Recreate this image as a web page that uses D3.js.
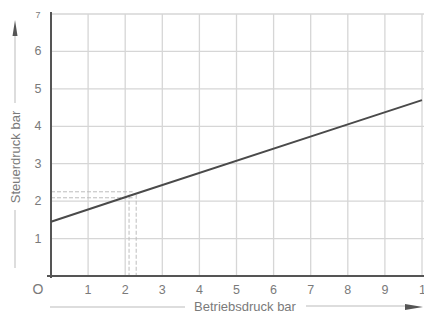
<!DOCTYPE html>
<html>
<head>
<meta charset="utf-8">
<script src="https://cdn.jsdelivr.net/npm/d3@7"></script>
<style>
  body { margin: 0; background: #fff; }
  text { font-family: "Liberation Sans", Arial, sans-serif; fill: #7a7a7a; }
</style>
</head>
<body>
<svg id="chart" width="424" height="317"></svg>
<script>
// Values
const xTicks = [0, 1, 2, 3, 4, 5, 6, 7, 8, 9, 10];
const yTicks = [0, 1, 2, 3, 4, 5, 6, 7];
const xTickLabels = ['O', '1', '2', '3', '4', '5', '6', '7', '8', '9', '10'];
const yTickLabels = ['', '1', '2', '3', '4', '5', '6', '7'];
// Betriebsdruck (bar) -> Steuerdruck (bar)
const linePoints = [[0, 1.45], [2.2, 2.17], [8, 4.05], [10, 4.7]];
// operating point marked with dashed guides
const markX = 2.2, markY = 2.17;

const svg = d3.select('#chart');

const x = d3.scaleLinear().domain([0, 10]).range([51, 422]);
const y = d3.scaleLinear().domain([0, 7]).range([276, 14]);

// grid
svg.append('g').selectAll('line').data(xTicks.slice(1))
  .enter().append('line')
  .attr('x1', d => x(d)).attr('x2', d => x(d))
  .attr('y1', y(7)).attr('y2', y(0))
  .attr('stroke', '#d6d6d6').attr('stroke-width', 1.3);
svg.append('g').selectAll('line').data(yTicks.slice(1))
  .enter().append('line')
  .attr('x1', x(0)).attr('x2', 424)
  .attr('y1', d => y(d)).attr('y2', d => y(d))
  .attr('stroke', '#d6d6d6').attr('stroke-width', 1.3);

// dashed guides for the marked point (drawn as thin double dashes)
let guide = svg.append('g').attr('stroke', '#bdbdbd').attr('stroke-width', 1)
  .attr('stroke-dasharray', '4,2').attr('fill', 'none');
[-0.08, 0.08].forEach(o => {
  guide.append('line')
    .attr('x1', x(0)).attr('x2', x(markX))
    .attr('y1', y(markY + o)).attr('y2', y(markY + o));
  guide.append('line')
    .attr('x1', x(markX + o * 1.2) ).attr('x2', x(markX + o * 1.2))
    .attr('y1', y(markY)).attr('y2', y(0));
});

// axes
svg.append('line')
  .attr('x1', x(0)).attr('x2', x(0))
  .attr('y1', y(7) - 2).attr('y2', y(0) + 2)
  .attr('stroke', '#555').attr('stroke-width', 2);
svg.append('line')
  .attr('x1', x(0) - 4).attr('x2', 424)
  .attr('y1', y(0)).attr('y2', y(0))
  .attr('stroke', '#555').attr('stroke-width', 2);

// characteristic line
svg.append('path')
  .datum(linePoints)
  .attr('fill', 'none')
  .attr('stroke', '#4a4a4a')
  .attr('stroke-width', 2)
  .attr('d', d3.line().x(d => x(d[0])).y(d => y(d[1])));

// tick labels
svg.append('g').selectAll('text').data(xTicks)
  .enter().append('text')
  .attr('x', (d, i) => i === 0 ? 38 : x(d))
  .attr('y', 294)
  .attr('text-anchor', (d, i) => i === 10 ? 'start' : 'middle')
  .attr('dx', (d, i) => i === 10 ? -3 : 0)
  .attr('font-size', (d, i) => i === 0 ? 14 : 12.5)
  .text((d, i) => xTickLabels[i]);
svg.append('g').selectAll('text').data(yTicks)
  .enter().append('text')
  .attr('x', 38)
  .attr('y', d => y(d) + 4)
  .attr('text-anchor', 'middle')
  .attr('font-size', d => d === 7 ? 9 : 12.5)
  .text((d, i) => yTickLabels[i]);

// axis titles with arrow leaders
svg.append('text')
  .attr('transform', 'translate(20,157) rotate(-90)')
  .attr('text-anchor', 'middle')
  .attr('font-size', 13)
  .text('Steuerdruck bar');
svg.append('line')
  .attr('x1', 15).attr('x2', 15).attr('y1', 210).attr('y2', 268)
  .attr('stroke', '#bbb').attr('stroke-width', 1);
svg.append('line')
  .attr('x1', 15).attr('x2', 15).attr('y1', 36).attr('y2', 103)
  .attr('stroke', '#bbb').attr('stroke-width', 1);
svg.append('path')
  .attr('d', 'M15,20 L12.5,36 L17.5,36 Z')
  .attr('fill', '#555');

svg.append('text')
  .attr('x', 245).attr('y', 311)
  .attr('text-anchor', 'middle')
  .attr('font-size', 13)
  .text('Betriebsdruck bar');
svg.append('line')
  .attr('x1', 50).attr('x2', 185).attr('y1', 307).attr('y2', 307)
  .attr('stroke', '#bbb').attr('stroke-width', 1);
svg.append('line')
  .attr('x1', 306).attr('x2', 405).attr('y1', 306).attr('y2', 306)
  .attr('stroke', '#bbb').attr('stroke-width', 1);
svg.append('path')
  .attr('d', 'M423,307 L405,304 L405,310 Z')
  .attr('fill', '#555');
</script>
</body>
</html>
